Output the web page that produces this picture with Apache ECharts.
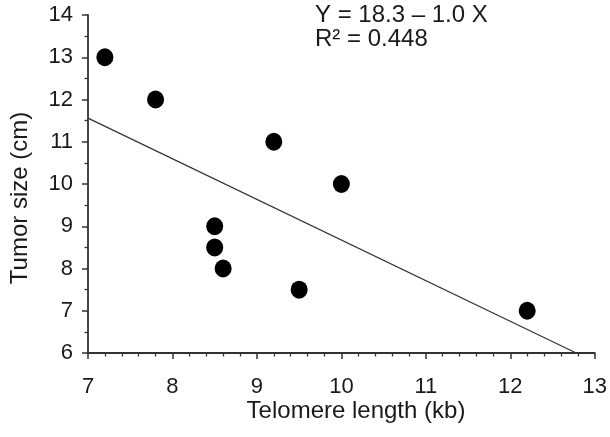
<!DOCTYPE html>
<html><head><meta charset="utf-8">
<script src="https://cdn.jsdelivr.net/npm/echarts@6/dist/echarts.min.js"></script>
<style>html,body{margin:0;padding:0;background:#fff}#c{width:610px;height:437px}</style>
</head><body><div id="c"></div>
<script>
const telomere = [7.2, 7.8, 9.2, 10.0, 8.5, 8.5, 8.6, 9.5, 12.2];
const tumorSize = [13, 12, 11, 10, 9, 8.5, 8, 7.5, 7];
const fitX = [7, 12.78];
const fitY = [11.56, 6];
const xTicks = [7, 8, 9, 10, 11, 12, 13];
const yTicks = [6, 7, 8, 9, 10, 11, 12, 13, 14];
const xTitle = 'Telomere length (kb)';
const yTitle = 'Tumor size (cm)';
const eqLine1 = 'Y = 18.3 \u2013 1.0 X';
const eqLine2 = 'R\u00B2 = 0.448';

const chart = echarts.init(document.getElementById('c'));
const font = 'Liberation Sans, Arial, sans-serif';
const txt = '#1a1a1a';
chart.setOption({
  animation: false,
  grid: {left: 88, right: 12, top: 15, bottom: 84},
  xAxis: {
    type: 'value', min: xTicks[0], max: xTicks[xTicks.length-1], interval: 1,
    axisLine: {lineStyle: {color: '#333', width: 1.8}},
    axisTick: {show: true, length: 6, lineStyle: {color: '#333', width: 1.5}},
    minorTick: {show: true, splitNumber: 5, length: 3.5, lineStyle: {color: '#333', width: 1.3}},
    axisLabel: {fontFamily: font, fontSize: 22, color: txt, margin: 23},
    splitLine: {show: false}
  },
  yAxis: {
    type: 'value', min: yTicks[0], max: yTicks[yTicks.length-1], interval: 1,
    axisLine: {show: true, lineStyle: {color: '#333', width: 1.8}},
    axisTick: {show: true, length: 6, lineStyle: {color: '#333', width: 1.5}},
    minorTick: {show: true, splitNumber: 2, length: 3.5, lineStyle: {color: '#333', width: 1.3}},
    axisLabel: {fontFamily: font, fontSize: 22, color: txt, margin: 15},
    splitLine: {show: false}
  },
  series: [
    {
      type: 'line', data: fitX.map((x, i) => [x, fitY[i]]), symbol: 'none',
      lineStyle: {color: '#333', width: 1.2}, z: 2
    },
    {
      type: 'scatter', data: telomere.map((x, i) => [x, tumorSize[i]]),
      symbol: 'circle', symbolSize: [17, 18],
      itemStyle: {color: '#000', opacity: 1}, z: 3
    }
  ],
  graphic: [
    {type: 'text', x: 20, y: 198, rotation: Math.PI / 2,
     style: {text: yTitle, font: '24px ' + font, fill: txt, align: 'center', verticalAlign: 'middle'}},
    {type: 'text', x: 356, y: 411,
     style: {text: xTitle, font: '24px ' + font, fill: txt, align: 'center', verticalAlign: 'middle'}},
    {type: 'text', left: 315, top: 3, style: {text: eqLine1, font: '24px ' + font, fill: txt}},
    {type: 'text', left: 315, top: 27, style: {text: eqLine2, font: '24px ' + font, fill: txt}}
  ]
});
</script></body></html>
